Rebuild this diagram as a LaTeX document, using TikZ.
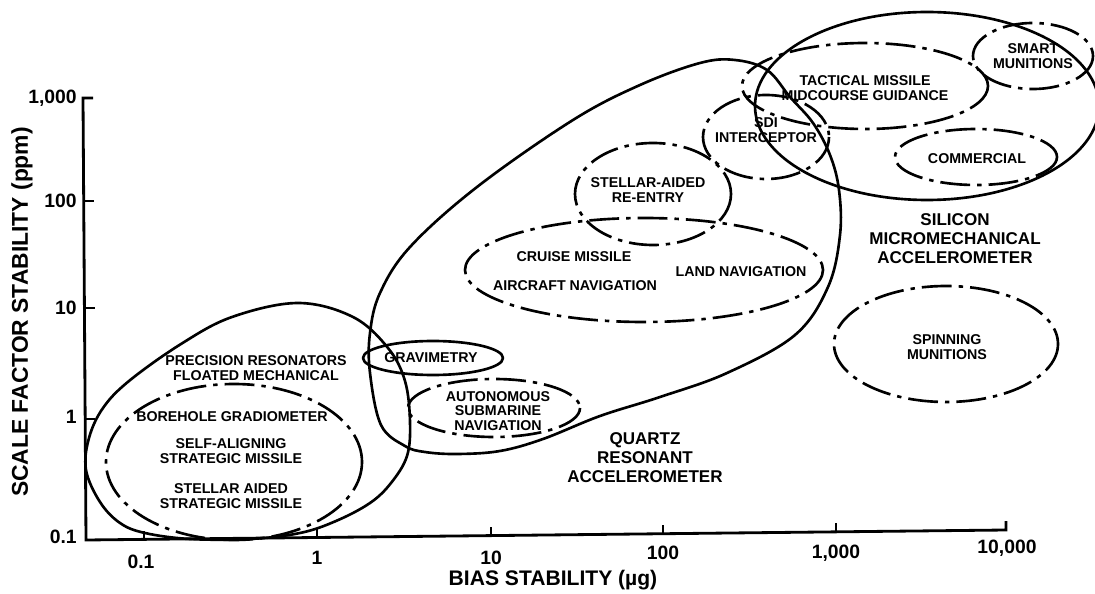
\documentclass[tikz,border=0pt]{standalone}
\usepackage{fontspec}
\setmainfont{Liberation Sans}

\begin{document}
\begin{tikzpicture}[x=0.02cm, y=-0.02cm,
    zone/.style={line width=1.5pt, line join=round},
    dashzone/.style={line width=1.5pt, dash pattern=on 17pt off 4pt on 2.5pt off 4pt},
    axisline/.style={line width=1.6pt},
    lbl/.style={font=\bfseries\fontsize{8.1}{8.3}\selectfont, align=center, inner sep=0pt},
    biglbl/.style={font=\bfseries\fontsize{9.7}{10.8}\selectfont, align=center, inner sep=0pt},
    ticklbl/.style={font=\bfseries\fontsize{11}{13}\selectfont, inner sep=0pt},
    axtitle/.style={font=\bfseries\fontsize{12}{14}\selectfont, inner sep=0pt}]

\useasboundingbox (0,0) rectangle (1095,594);

% axes
\draw[axisline] (93,98) -- (83,98) -- (86,540) -- (1006,530) -- (1006,521);
\draw[axisline] (84,201) -- (94,201);
\draw[axisline] (85,308) -- (95,308);
\draw[axisline] (85,419) -- (95,419);
\draw[axisline] (144,539) -- (144,531);
\draw[axisline] (317,537) -- (317,529);
\draw[axisline] (491,536) -- (491,527);
\draw[axisline] (663,534) -- (663,525);
\draw[axisline] (836,532) -- (836,523);

% tick labels
\node[ticklbl, anchor=east] (y1000) at (77,98) {1,000};
\node[ticklbl, anchor=east] (y100) at (77,201) {100};
\node[ticklbl, anchor=east] (y10) at (77,308) {10};
\node[ticklbl, anchor=east] (y1) at (77,417) {1};
\node[ticklbl, anchor=east] (y01) at (77,537) {0.1};
\node[ticklbl] (x01) at (141,562) {0.1};
\node[ticklbl] (x1) at (317,558) {1};
\node[ticklbl] (x10) at (491,558) {10};
\node[ticklbl] (x100) at (663,553) {100};
\node[ticklbl] (x1000) at (836,553) {1,000};
\node[ticklbl] (x10000) at (1007,548) {10,000};

% axis titles
\node[axtitle] (xtitle) at (553,580) {BIAS STABILITY (µg)};
\node[axtitle, font=\bfseries\fontsize{13}{15}\selectfont, rotate=90] (ytitle) at (22,312) {SCALE FACTOR STABILITY (ppm)};

% floated mechanical / precision resonators
\draw[zone] plot[smooth cycle, tension=0.6] coordinates {
    (86,470) (89,438) (103,408) (129,381) (181,344) (232,317) (298,303)
    (353,317) (388,348) (405,381) (410,422) (407,456) (391,483) (370,503)
    (336,521) (300,533) (250,539) (190,539) (145,533) (120,523) (100,502)};
\draw[dashzone] (234,462) ellipse [x radius=128, y radius=78];
\node[lbl] (precision) at (256,368) {PRECISION RESONATORS\\FLOATED MECHANICAL};
\node[lbl] (borehole) at (232,417) {BOREHOLE GRADIOMETER};
\node[lbl] (selfalign) at (231,451) {SELF-ALIGNING\\STRATEGIC MISSILE};
\node[lbl] (stellarsm) at (231,496) {STELLAR AIDED\\STRATEGIC MISSILE};

% quartz resonant accelerometer
\draw[zone] plot[smooth cycle, tension=0.6] coordinates {
    (700,63) (735,60) (767,70) (790,97) (813,123) (830,155) (839,190)
    (840,235) (828,287) (795,335) (727,373) (660,397) (600,416) (543,439)
    (500,451) (457,454) (425,452) (405,446) (381,425) (370,373) (370,333)
    (380,293) (410,247) (477,187) (573,120) (640,85)};
\node[biglbl] (quartz) at (645,458) {QUARTZ\\RESONANT\\ACCELEROMETER};

% gravimetry and submarine navigation
\draw[zone] (433,358) ellipse [x radius=70, y radius=17];
\node[lbl] (gravimetry) at (431,358) {GRAVIMETRY};
\draw[dashzone] (494,408) ellipse [x radius=86, y radius=29];
\node[lbl] (autonomous) at (498,411) {AUTONOMOUS\\SUBMARINE\\NAVIGATION};

% navigation and re-entry
\draw[dashzone] (644,270) ellipse [x radius=179, y radius=52];
\node[lbl] (cruise) at (574,257) {CRUISE MISSILE};
\node[lbl] (aircraft) at (575,286) {AIRCRAFT NAVIGATION};
\node[lbl] (land) at (741,272) {LAND NAVIGATION};
\draw[dashzone] (653,194) ellipse [x radius=78, y radius=51];
\node[lbl] (reentry) at (648,190) {STELLAR-AIDED\\RE-ENTRY};

% silicon micromechanical accelerometer
\draw[zone] (927,106) ellipse [x radius=172, y radius=94];
\node[biglbl] (silicon) at (955,239) {SILICON\\MICROMECHANICAL\\ACCELEROMETER};
\draw[dashzone] (766,137) ellipse [x radius=63, y radius=42];
\node[lbl] (sdi) at (766,130) {SDI\\INTERCEPTOR};
\draw[dashzone] (865,86) ellipse [x radius=123, y radius=43];
\node[lbl] (tactical) at (865,88) {TACTICAL MISSILE\\MIDCOURSE GUIDANCE};
\draw[dashzone] (1033,56) ellipse [x radius=60, y radius=33];
\node[lbl] (smart) at (1033,56) {SMART\\MUNITIONS};
\draw[dashzone] (976,157) ellipse [x radius=81, y radius=28];
\node[lbl] (commercial) at (977,159) {COMMERCIAL};
\draw[dashzone] (946,344) ellipse [x radius=112, y radius=58];
\node[lbl] (spinning) at (947,347) {SPINNING\\MUNITIONS};

\end{tikzpicture}
\end{document}
